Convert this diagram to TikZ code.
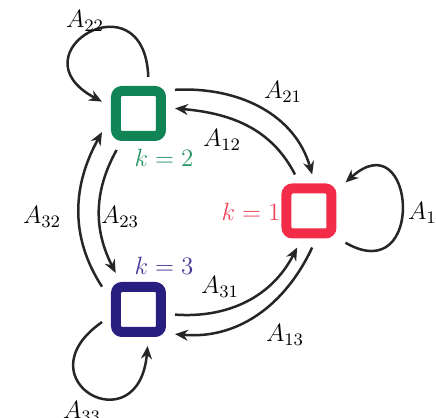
\RequirePackage{fix-cm}
\documentclass[tikz,border=0pt]{standalone}
\usepackage{tikz,amsmath}
\usetikzlibrary{arrows.meta, positioning}

\definecolor{StateGreen}{RGB}{16,132,84}
\definecolor{StateRed}{RGB}{242,44,72}
\definecolor{StateBlue}{RGB}{40,30,128}
\definecolor{LabelGreen}{RGB}{40,150,100}
\definecolor{LabelRed}{RGB}{240,70,90}
\definecolor{LabelBlue}{RGB}{72,52,150}

\begin{document}
\begin{tikzpicture}[x=0.5pt, y=0.5pt]
\useasboundingbox (0,0) rectangle (436,418);

\tikzset{
  state box/.style={
    draw=#1, rectangle,
    rounded corners=3pt,
    line width=5pt,
    minimum size=22.5pt,
    inner sep=0pt, outer sep=7pt,
    fill=white
  },
  transition/.style={
    draw=black!85, line width=1.25pt,
    -{Stealth[length=6.5pt, width=5.5pt]}
  },
  amp label/.style={font=\fontsize{12.5}{15}\selectfont},
  state label/.style={font=\fontsize{12.5}{15}\selectfont, text=#1}
}

% the three states
\node[state box=StateGreen] (s2) at (138.5,304.5) {};
\node[state box=StateRed]   (s1) at (309,207) {};
\node[state box=StateBlue]  (s3) at (138.5,108.5) {};

\node[state label=LabelGreen] (k2) at (164,260) {$k=2$};
\node[state label=LabelRed]   (k1) at (251,206) {$k=1$};
\node[state label=LabelBlue]  (k3) at (164,152) {$k=3$};

% transitions between states
\draw[transition] (s2.33)  to[out=3, in=106]   (s1.85);
\draw[transition] (s1.111) to[out=117, in=-5]  (s2.8);
\draw[transition] (s3.148) to[out=123, in=241] (s2.207);
\draw[transition] (s2.239) to[out=241, in=117] (s3.122);
\draw[transition] (s3.352) to[out=-4, in=243]  (s1.252);
\draw[transition] (s1.275) to[out=245, in=-5]  (s3.326);

% self transitions
\draw[transition] (s2.75)  to[out=92, in=152, looseness=5]  (s2.162);
\draw[transition] (s1.319) to[out=-30, in=42, looseness=4]  (s1.38);
\draw[transition] (s3.199) to[out=215, in=265, looseness=5] (s3.284);

\node[amp label] (a22) at (85,397) {$A_{22}$};
\node[amp label] (a21) at (283,326) {$A_{21}$};
\node[amp label] (a12) at (222,278) {$A_{12}$};
\node[amp label] (a32) at (42,201) {$A_{32}$};
\node[amp label] (a23) at (120,201) {$A_{23}$};
\node[amp label] (a31) at (220,131) {$A_{31}$};
\node[amp label] (a13) at (285,83) {$A_{13}$};
\node[amp label] (a33) at (82,6) {$A_{33}$};
\node[amp label, anchor=west] (a11) at (401,205) {$A_{11}$};

\end{tikzpicture}
\end{document}
